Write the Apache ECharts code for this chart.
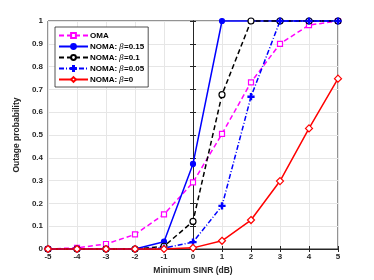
<!DOCTYPE html>
<html><head><meta charset="utf-8">
<script src="https://cdn.jsdelivr.net/npm/echarts@6/dist/echarts.min.js"></script>
<style>html,body{margin:0;padding:0;background:#fff}#c{width:374px;height:280px}</style>
</head><body><div id="c"></div>
<script>
const xValues = [-5,-4,-3,-2,-1,0,1,2,3,4,5];
const oma     = [0,0.005,0.022,0.064,0.152,0.292,0.505,0.731,0.90,0.982,1];
const noma015 = [0,0,0,0,0.032,0.373,1,1,1,1,1];
const noma01  = [0,0,0,0,0.012,0.121,0.677,1,1,1,1];
const noma005 = [0,0,0,0,0.004,0.03,0.189,0.668,1,1,1];
const noma0   = [0,0,0,0,0,0.005,0.036,0.127,0.298,0.529,0.747];
const seriesNames = ['OMA','NOMA: {i|β}=0.15','NOMA: {i|β}=0.1','NOMA: {i|β}=0.05','NOMA: {i|β}=0'];

const pair = a => a.map((v,i)=>[xValues[i],v]);
const plusPath = 'path://M4,0 L6,0 L6,4 L10,4 L10,6 L6,6 L6,10 L4,10 L4,6 L0,6 L0,4 L4,4 Z';
const font = 'Liberation Sans, Arial, sans-serif';
const axisCol = '#262626';

const chart = echarts.init(document.getElementById('c'), null, {renderer:'canvas'});
function mk(name, data, color, type, symbol, size, fill){
  return {name, type:'line', data:pair(data), clip:false,
    lineStyle:{color, width:1.5, type},
    itemStyle:{color: fill ? color : '#fff', borderColor:color, borderWidth:1.2},
    symbol, symbolSize:size, showAllSymbol:true, z: 3};
}
chart.setOption({
  animation:false,
  textStyle:{fontFamily:font},
  grid:{left:48, right:36, top:21, bottom:31, show:true, borderColor:axisCol, borderWidth:1},
  xAxis:[{type:'value', min:-5, max:5, interval:1,
    name:'Minimum SINR (dB)', nameLocation:'middle', nameGap:16,
    nameTextStyle:{fontSize:8.5, fontWeight:'bold', color:axisCol, fontFamily:font},
    axisLine:{show:true, lineStyle:{color:axisCol}},
    axisTick:{show:true, inside:true, length:3, lineStyle:{color:axisCol}},
    axisLabel:{fontSize:8, fontWeight:'bold', color:axisCol, margin:4, fontFamily:font},
    splitLine:{show:true, lineStyle:{color:'#e6e6e6', width:1}}},
    {type:'value', position:'top', min:-5, max:5, interval:1,
    axisLine:{show:true, lineStyle:{color:axisCol}},
    axisTick:{show:true, inside:true, length:3, lineStyle:{color:axisCol}},
    axisLabel:{show:false}, splitLine:{show:false}}],
  yAxis:[{type:'value', min:0, max:1, interval:0.1,
    name:'Outage probability', nameLocation:'middle', nameGap:27,
    nameTextStyle:{fontSize:8.5, fontWeight:'bold', color:axisCol, fontFamily:font},
    axisLine:{show:true, lineStyle:{color:axisCol}},
    axisTick:{show:true, inside:true, length:3, lineStyle:{color:axisCol}},
    axisLabel:{fontSize:8, fontWeight:'bold', color:axisCol, margin:5, fontFamily:font},
    splitLine:{show:true, lineStyle:{color:'#e6e6e6', width:1}}},
    {type:'value', position:'right', min:0, max:1, interval:0.1,
    axisLine:{show:true, lineStyle:{color:axisCol}},
    axisTick:{show:true, inside:true, length:3, lineStyle:{color:axisCol}},
    axisLabel:{show:false}, splitLine:{show:false}}],
  legend:{orient:'vertical', left:55, top:27, itemWidth:29, itemHeight:6, itemGap:2,
    padding:[4,4,3,3], backgroundColor:'#fff', borderColor:axisCol, borderWidth:0.8,
    textStyle:{fontSize:8, lineHeight:9, fontWeight:'bold', color:'#000', fontFamily:font, padding:[0,0,0,-3],
      rich:{i:{fontStyle:'italic', fontWeight:'normal', fontSize:8, lineHeight:9, fontFamily:'DejaVu Serif, serif'}}},
    data:seriesNames},
  series:[
    mk(seriesNames[0], oma, '#ff00ff', [5,3], 'rect', 5, false),
    mk(seriesNames[1], noma015, '#0000ff', 'solid', 'circle', 5, true),
    mk(seriesNames[2], noma01, '#000000', [5,3], 'circle', 6, false),
    mk(seriesNames[3], noma005, '#0000ff', [5,2,1,2], plusPath, 6, true),
    mk(seriesNames[4], noma0, '#ff0000', 'solid', 'diamond', 7, false)
  ]
});
</script></body></html>
